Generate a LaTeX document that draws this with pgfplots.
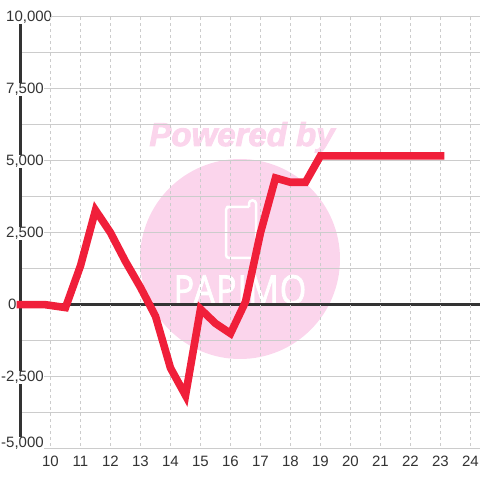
\documentclass[border=0pt]{standalone}
\usepackage{pgfplots}
\pgfplotsset{compat=1.18}
\usepackage{fontspec}
\setmainfont{Liberation Sans}
\newfontfamily\logofont[LetterSpace=3]{Open Sans}
\definecolor{wm}{HTML}{FBD5EC}
\definecolor{gridc}{HTML}{CCCCCC}
\definecolor{dark}{HTML}{333333}
\definecolor{redl}{HTML}{F01F3A}
\begin{document}
\begin{tikzpicture}[x=1pt,y=1pt]
\useasboundingbox (0,0) rectangle (480,480);
% watermark
\fill[wm] (240,221) circle (100);
\node[wm,anchor=base,inner sep=0] at (242,334) {\fontsize{33}{33}\selectfont\bfseries\itshape\special{pdf:literal 2 Tr 0.9 w}Powered by\special{pdf:literal 0 Tr 0 w}};
\draw[white,line width=2.5pt,line join=round,rounded corners=3pt]
  (249,273) -- (230,273) -- (226,273) -- (226,222) -- (256,222) -- (256,279.5) -- (249,279.5) -- (249,273);
\node[white,anchor=base,inner sep=0,xscale=0.85] at (240,176) {\logofont\fontsize{40}{40}\selectfont\special{pdf:literal 2 Tr 0.8 w}PAPIMO\special{pdf:literal 0 Tr 0 w}};
\begin{axis}[
  at={(20.5pt,31.3pt)},anchor=south west,
  scale only axis,width=459.5pt,height=432pt,
  xmin=9,xmax=24.3167,ymin=-5000,ymax=10000,
  axis x line*=bottom,axis y line*=left,
  x axis line style={gridc,line width=1.2pt,-},
  y axis line style={dark,line width=3pt,-},
  tick style={draw=none},
  scaled y ticks=false,
  xtick={10,11,...,24},
  xticklabels={10,11,12,13,14,15,16,17,18,19,20,21,22,23,24},
  xticklabel style={font=\fontsize{15}{15}\selectfont,text=dark,inner sep=0pt,text height=11pt,text depth=0pt,anchor=north,yshift=-6.3pt},
  ytick={-4757,-2500,0,2500,5000,7500,10000},
  yticklabels={{\llap{-}5,000},{\llap{-}2,500},{\hspace*{2pt}0},{2,500},{5,000},{7,500},{10,000}},
  yticklabel style={font=\fontsize{15}{15}\selectfont,text=dark,fill=white,inner sep=0pt,text height=10.5pt,text depth=2.5pt,anchor=west,xshift=-14.5pt,yshift=-1.3pt},
  minor ytick={-3750,-2500,-1250,1250,2500,3750,5000,6250,7500,8750,10000},
  yminorgrids=true,
  minor grid style={gridc,line width=1pt},
  extra y ticks={0},
  extra y tick labels={},
  extra y tick style={ymajorgrids=true,grid style={dark,line width=3pt}},
  clip=false,
]
\pgfplotsinvokeforeach{10,11,...,24}{
  \draw[gridc,line width=1pt,dash pattern=on 3pt off 3pt] (axis cs:#1,-4890) -- (axis cs:#1,10000);
}
\addplot[redl,line width=7.6pt,line cap=rect,miter limit=10,line join=miter] coordinates {
(9,0)(9.5,0)(9.83,0)(10.5,-100)(11,1350)(11.5,3280)(12,2500)(12.5,1500)(13,600)(13.5,-400)(14,-2200)(14.5,-3150)(15,-150)(15.5,-650)(16,-1000)(16.5,100)(17,2500)(17.5,4400)(18,4250)(18.5,4250)(19,5170)(19.5,5170)(20,5170)(20.5,5170)(21,5170)(21.5,5170)(22,5170)(22.5,5170)(23,5170)};
\end{axis}
\end{tikzpicture}
\end{document}
